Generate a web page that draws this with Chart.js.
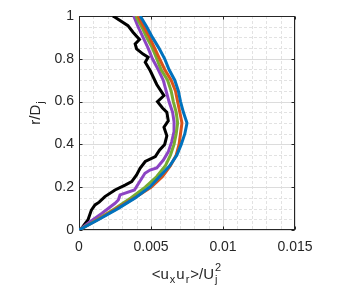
<!DOCTYPE html>
<html>
<head>
<meta charset="utf-8">
<script src="https://cdn.jsdelivr.net/npm/chart.js@4"></script>
<style>
  html, body { margin: 0; padding: 0; background: #fff; }
</style>
</head>
<body>
<canvas id="chart" width="351" height="287"></canvas>
<script>
// tick marks
const xTicks = [0, 0.005, 0.01, 0.015];
const xTickLabels = ["0", "0.005", "0.01", "0.015"];
const yTicks = [0, 0.2, 0.4, 0.6, 0.8, 1];
const yTickLabels = ["0", "0.2", "0.4", "0.6", "0.8", "1"];

// <ux ur>/Uj^2 values are written in units of 1e-3
const profileR = [0, 0.05, 0.1, 0.15, 0.2, 0.25, 0.3, 0.35, 0.4, 0.45, 0.5,
  0.55, 0.6, 0.65, 0.7, 0.75, 0.8, 0.85, 0.9, 0.95, 1.0];
const blueX = [0, 1.4, 2.7, 3.9, 4.9, 5.6, 6.3, 6.8, 7.1, 7.35, 7.5,
  7.25, 7.05, 6.9, 6.65, 6.25, 5.95, 5.55, 5.1, 4.7, 4.25];
const orangeX = [0, 1.35, 2.6, 3.85, 5.0, 5.8, 6.35, 6.75, 6.95, 7.05, 7.15,
  7.0, 6.85, 6.7, 6.4, 5.95, 5.6, 5.25, 4.9, 4.5, 4.1];
const greenX = [0, 1.3, 2.5, 3.6, 4.6, 5.4, 6.0, 6.35, 6.6, 6.75, 6.85,
  6.75, 6.55, 6.4, 6.15, 5.7, 5.4, 5.1, 4.7, 4.35, 3.95];

const purpleR = [0, 0.04, 0.078, 0.125, 0.14, 0.164, 0.187, 0.23, 0.265, 0.28,
  0.29, 0.327, 0.365, 0.413, 0.46, 0.506, 0.55, 0.6, 0.65, 0.7, 0.75, 0.8,
  0.85, 0.9, 0.95, 1.0];
const purpleX = [0, 0.8, 1.6, 2.5, 2.73, 2.85, 3.85, 4.25, 4.58, 4.93,
  5.4, 5.86, 6.2, 6.44, 6.6, 6.6, 6.5, 6.25, 6.05, 5.85, 5.5, 5.1,
  4.8, 4.45, 4.1, 3.8];

const blackR = [0, 0.01, 0.047, 0.093, 0.117, 0.13, 0.156, 0.187, 0.21, 0.226,
  0.257, 0.288, 0.32, 0.343, 0.374, 0.4, 0.44, 0.48, 0.51, 0.55, 0.57, 0.6,
  0.628, 0.68, 0.744, 0.784, 0.807, 0.822, 0.846, 0.87, 0.89, 0.924, 0.955,
  0.994, 1.0];
const blackX = [0, 0.2, 0.62, 0.86, 1.11, 1.4, 1.8, 2.5, 3.2, 3.66,
  4.0, 4.24, 4.6, 5.3, 5.6, 5.95, 6.1, 5.9, 6.2, 6.1, 5.8, 5.45,
  5.9, 5.4, 4.95, 4.6, 4.8, 4.45, 4.0, 3.9, 4.2, 3.75, 3.4,
  2.5, 2.35];

const toPoints = (xs, rs) => xs.map((v, i) => ({ x: v / 1000, y: rs[i] }));

const line = (data, color) => ({
  data: data,
  borderColor: color,
  borderWidth: 3,
  showLine: true,
  pointRadius: 0,
  tension: 0,
  fill: false,
});

const FONT = "'Liberation Sans', Arial, Helvetica, sans-serif";
const INK = "#262626";

// grid (major solid, minor dashed), box and inward ticks, like a matlab axes
const axesFrame = {
  id: "axesFrame",
  beforeDatasetsDraw(chart) {
    const { ctx, chartArea: a, scales } = chart;
    const xs = scales.x, ys = scales.y;
    ctx.save();
    ctx.lineWidth = 1;
    // minor grid
    ctx.strokeStyle = "#e2e2e2";
    ctx.setLineDash([3, 2]);
    for (let v = 0.001; v < 0.015 - 1e-9; v += 0.001) {
      const px = Math.round(xs.getPixelForValue(v)) + 0.5;
      ctx.beginPath(); ctx.moveTo(px, a.top); ctx.lineTo(px, a.bottom); ctx.stroke();
    }
    for (let v = 0.05; v < 1 - 1e-9; v += 0.05) {
      const py = Math.round(ys.getPixelForValue(v)) + 0.5;
      ctx.beginPath(); ctx.moveTo(a.left, py); ctx.lineTo(a.right, py); ctx.stroke();
    }
    // major grid
    ctx.setLineDash([]);
    ctx.strokeStyle = "#dcdcdc";
    xTicks.forEach((v) => {
      const px = Math.round(xs.getPixelForValue(v)) + 0.5;
      ctx.beginPath(); ctx.moveTo(px, a.top); ctx.lineTo(px, a.bottom); ctx.stroke();
    });
    yTicks.forEach((v) => {
      const py = Math.round(ys.getPixelForValue(v)) + 0.5;
      ctx.beginPath(); ctx.moveTo(a.left, py); ctx.lineTo(a.right, py); ctx.stroke();
    });
    // box
    ctx.strokeStyle = INK;
    const l = Math.round(a.left) + 0.5, r = Math.round(a.right) - 0.5;
    const t = Math.round(a.top) + 0.5, b = Math.round(a.bottom) - 0.5;
    ctx.strokeRect(l, t, r - l, b - t);
    // inward ticks
    const tl = 3;
    ctx.beginPath();
    xTicks.forEach((v) => {
      const px = Math.round(xs.getPixelForValue(v)) + 0.5;
      ctx.moveTo(px, b); ctx.lineTo(px, b - tl);
      ctx.moveTo(px, t); ctx.lineTo(px, t + tl);
    });
    yTicks.forEach((v) => {
      const py = Math.round(ys.getPixelForValue(v)) + 0.5;
      ctx.moveTo(l, py); ctx.lineTo(l + tl, py);
      ctx.moveTo(r, py); ctx.lineTo(r - tl, py);
    });
    ctx.stroke();
    ctx.restore();
  },
  afterDraw(chart) {
    const { ctx, chartArea: a } = chart;
    ctx.save();
    ctx.fillStyle = INK;
    ctx.textBaseline = "alphabetic";
    const big = "15px " + FONT, small = "11px " + FONT;

    // x title: <u_x u_r>/U_j^2
    const parts = [
      ["<u", big, 0], ["x", small, 4], ["u", big, 0], ["r", small, 4],
      [">/U", big, 0], ["j", small, 4, "2"],
    ];
    let w = 0;
    parts.forEach((p) => {
      ctx.font = p[1];
      let pw = ctx.measureText(p[0]).width;
      if (p[3]) pw = Math.max(pw, ctx.measureText(p[3]).width);
      w += pw + 1;
    });
    let x = (a.left + a.right) / 2 - w / 2;
    const base = 279;
    parts.forEach((p) => {
      ctx.font = p[1];
      ctx.fillText(p[0], x, base + p[2]);
      let pw = ctx.measureText(p[0]).width;
      if (p[3]) {
        ctx.fillText(p[3], x, base - 8);
        pw = Math.max(pw, ctx.measureText(p[3]).width);
      }
      x += pw + 1;
    });

    // y title: r/D_j, rotated
    ctx.translate(40, (a.top + a.bottom) / 2 - 10);
    ctx.rotate(-Math.PI / 2);
    ctx.font = big;
    const w1 = ctx.measureText("r/D").width;
    ctx.font = small;
    const w2 = ctx.measureText("j").width;
    let yx = -(w1 + w2 + 1) / 2;
    ctx.font = big;
    ctx.fillText("r/D", yx, 0);
    ctx.font = small;
    ctx.fillText("j", yx + w1 + 1, 4);
    ctx.restore();
  },
};

new Chart(document.getElementById("chart"), {
  type: "scatter",
  data: {
    datasets: [
      line(toPoints(blueX, profileR), "#0072BD"),
      line(toPoints(orangeX, profileR), "#D95319"),
      line(toPoints(greenX, profileR), "#77AC30"),
      line(toPoints(purpleX, purpleR), "#8C44C4"),
      line(toPoints(blackX, blackR), "#000000"),
    ],
  },
  options: {
    responsive: false,
    animation: false,
    devicePixelRatio: 1,
    layout: { padding: { left: 0, right: 56, top: 16, bottom: 0 } },
    plugins: { legend: { display: false }, tooltip: { enabled: false } },
    scales: {
      x: {
        type: "linear",
        min: 0,
        max: 0.015,
        afterBuildTicks: (s) => { s.ticks = xTicks.map((v) => ({ value: v })); },
        afterFit: (s) => { s.height = 57; },
        grid: { display: false, drawTicks: false },
        border: { display: false },
        ticks: {
          autoSkip: false,
          maxRotation: 0,
          padding: 9,
          color: INK,
          font: { family: FONT, size: 14 },
          callback: (v, i) => xTickLabels[i],
        },
      },
      y: {
        type: "linear",
        min: 0,
        max: 1,
        afterBuildTicks: (s) => { s.ticks = yTicks.map((v) => ({ value: v })); },
        afterFit: (s) => { s.width = 79; },
        grid: { display: false, drawTicks: false },
        border: { display: false },
        ticks: {
          autoSkip: false,
          padding: 5,
          color: INK,
          font: { family: FONT, size: 14 },
          callback: (v, i) => yTickLabels[i],
        },
      },
    },
  },
  plugins: [axesFrame],
});
</script>
</body>
</html>
